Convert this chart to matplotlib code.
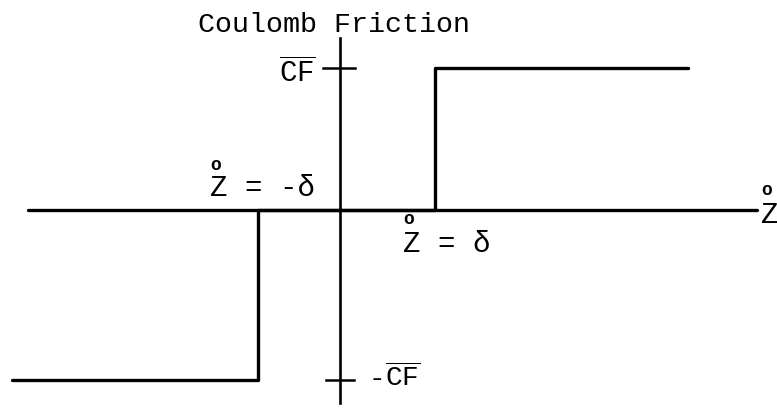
import matplotlib.pyplot as plt

plt.rcParams['mathtext.fontset'] = 'custom'
plt.rcParams['mathtext.rm'] = 'Liberation Mono'
plt.rcParams['mathtext.it'] = 'Liberation Mono'
plt.rcParams['mathtext.bf'] = 'Liberation Mono:bold'

# friction level (upper / lower) and breakaway velocity (right / left), in plot units
cf_up = 1.0
cf_down = -1.2
delta_r = 1.0
delta_l = -0.86

# the step curve: lower branch, jump at -delta, zero band, jump at +delta, upper branch
curve_x = [-3.45, delta_l, delta_l, delta_r, delta_r, 3.66]
curve_y = [cf_down, cf_down, 0.0, 0.0, cf_up, cf_up]

# extent of the two axes lines
haxis_x = [-3.28, 4.39]
vaxis_y = [-1.36, 1.21]

title = 'Coulomb Friction'
cf_label = r'$\overline{\mathrm{CF}}$'
left_label = 'Z = -δ'
right_label = 'Z = δ'
axis_label = 'Z'
ring = 'o'

fig = plt.figure(figsize=(7.77, 4.08), dpi=100)
ax = fig.add_axes([0, 0, 1, 1])
ax.set_xlim(-3.579, 4.6)
ax.set_ylim(-1.394, 1.479)
ax.axis('off')

lw = 2.4
ax.plot(haxis_x, [0, 0], color='black', lw=lw, solid_capstyle='round')
ax.plot([0, 0], vaxis_y, color='black', lw=1.9)
ax.plot(curve_x, curve_y, color='black', lw=lw, solid_capstyle='round')

# small ticks marking the friction levels on the vertical axis
ax.plot([-0.18, 0.16], [cf_up, cf_up], color='black', lw=1.8)
ax.plot([-0.15, 0.15], [cf_down, cf_down], color='black', lw=1.8)

mono = dict(family='Liberation Mono', color='black')
ax.text(-1.495, 1.254, title, fontsize=20.4, ha='left', va='baseline', **mono)
ax.text(-0.25, 0.901, cf_label, fontsize=21, ha='right', va='baseline')
# negative level: a short typewriter dash in front of the barred CF
ax.text(0.3, -1.24, '-', fontsize=20, ha='left', va='baseline', **mono)
ax.text(0.47, -1.24, cf_label, fontsize=20, ha='left', va='baseline')

# "Z-dot" labels: the letters, then a ring above each Z
ax.text(-1.368, 0.099, left_label, fontsize=21, ha='left', va='baseline', **mono)
ax.text(0.663, -0.296, right_label, fontsize=21, ha='left', va='baseline', **mono)
ax.text(4.43, -0.092, axis_label, fontsize=21, ha='left', va='baseline', **mono)
for rx, ry in [(-1.305, 0.315), (0.726, -0.065), (4.49, 0.135)]:
    ax.text(rx, ry, ring, fontsize=13, weight='bold', ha='center', va='center',
            family='Liberation Mono')

fig.savefig('out.png', dpi=100)
